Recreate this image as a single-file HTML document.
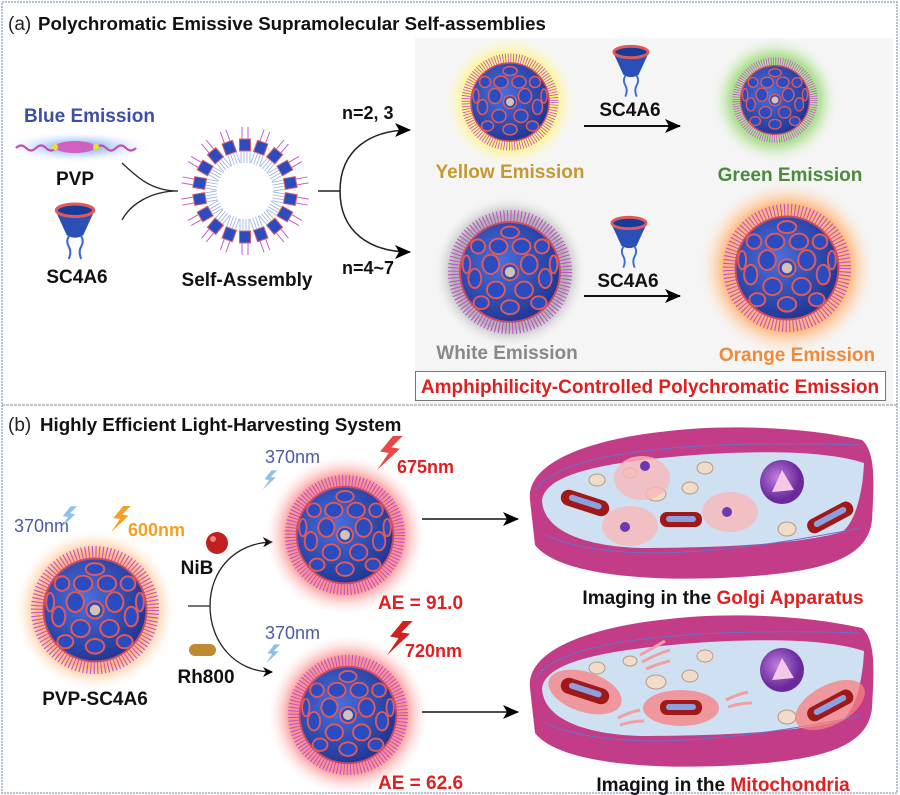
<!DOCTYPE html>
<html><head><meta charset="utf-8"><style>
html,body{margin:0;padding:0;background:#fff}
svg{display:block}
text{font-family:"Liberation Sans",Arial,sans-serif;font-weight:bold}
</style></head><body>
<svg width="900" height="795" viewBox="0 0 900 795" xmlns="http://www.w3.org/2000/svg">
<defs>
<radialGradient id="body" cx="0.4" cy="0.4" r="0.7"><stop offset="0" stop-color="#4a70e0"/><stop offset="1" stop-color="#1c2f8a"/></radialGradient>
<radialGradient id="gY"><stop offset="0" stop-color="#fff060"/><stop offset="0.7" stop-color="#fff27a" stop-opacity="0.9"/><stop offset="1" stop-color="#fffbe0" stop-opacity="0"/></radialGradient>
<radialGradient id="gG"><stop offset="0" stop-color="#98d878"/><stop offset="0.7" stop-color="#a8dc88" stop-opacity="0.85"/><stop offset="1" stop-color="#eef8e8" stop-opacity="0"/></radialGradient>
<radialGradient id="gW"><stop offset="0" stop-color="#909090"/><stop offset="0.75" stop-color="#a8a8a8" stop-opacity="0.85"/><stop offset="1" stop-color="#eee" stop-opacity="0"/></radialGradient>
<radialGradient id="gO"><stop offset="0" stop-color="#ffa060"/><stop offset="0.72" stop-color="#ffb070" stop-opacity="0.9"/><stop offset="1" stop-color="#fff0e0" stop-opacity="0"/></radialGradient>
<radialGradient id="gP"><stop offset="0" stop-color="#f07070"/><stop offset="0.72" stop-color="#f88888" stop-opacity="0.9"/><stop offset="1" stop-color="#ffe8e8" stop-opacity="0"/></radialGradient>
<radialGradient id="gB"><stop offset="0.3" stop-color="#9ec0f0"/><stop offset="1" stop-color="#e8f0ff" stop-opacity="0"/></radialGradient>
<radialGradient id="nuc" cx="0.4" cy="0.4"><stop offset="0" stop-color="#c080e0"/><stop offset="1" stop-color="#6a2a9a"/></radialGradient>
<symbol id="sph" viewBox="-100 -100 200 200">
<circle r="86" fill="none" stroke="#c050c8" stroke-width="22" stroke-dasharray="1.6 3.6"/>
<circle r="78" fill="url(#body)" stroke="#d04a60" stroke-width="3"/>
<g fill="#2a4cc0" stroke="#e05a5a" stroke-width="3">
<ellipse cx="0" cy="0" rx="13" ry="13"/>
<ellipse cx="-30" cy="-12" rx="13" ry="15"/><ellipse cx="30" cy="-12" rx="13" ry="15"/>
<ellipse cx="-18" cy="-40" rx="14" ry="12"/><ellipse cx="18" cy="-40" rx="14" ry="12"/>
<ellipse cx="-22" cy="28" rx="14" ry="13"/><ellipse cx="22" cy="28" rx="14" ry="13"/>
<ellipse cx="0" cy="55" rx="14" ry="11"/><ellipse cx="-55" cy="10" rx="10" ry="15"/>
<ellipse cx="55" cy="10" rx="10" ry="15"/><ellipse cx="-50" cy="-40" rx="11" ry="11"/>
<ellipse cx="50" cy="-40" rx="11" ry="11"/><ellipse cx="0" cy="-62" rx="14" ry="9"/>
<ellipse cx="-45" cy="48" rx="12" ry="10"/><ellipse cx="45" cy="48" rx="12" ry="10"/>
<ellipse cx="-68" cy="-12" rx="6" ry="14"/><ellipse cx="68" cy="-12" rx="6" ry="14"/>
</g>
<circle r="8" fill="#ffe0b0" opacity="0.8"/>
</symbol>
<symbol id="cone" viewBox="0 0 40 56">
<path d="M1,8 L12,32 Q20,37 28,32 L39,8 Z" fill="#2a50b8"/>
<ellipse cx="20" cy="8" rx="18" ry="6" fill="#1a3a9a" stroke="#e05a5a" stroke-width="3"/>
<path d="M14,33 q-3,5 0,10 q3,5 0,12 M26,33 q3,5 0,10 q-3,5 0,12" stroke="#3a6ad0" stroke-width="2" fill="none"/>
</symbol>
<symbol id="bolt" viewBox="0 0 20 24"><path d="M12,0 L3,11 L9,12 L1,24 L17,9 L11,8 L19,0 Z"/></symbol>
<marker id="ar" markerWidth="10" markerHeight="10" refX="9" refY="5" orient="auto" markerUnits="userSpaceOnUse"><path d="M0,0 L10,5 L0,10 L3,5 Z" fill="#000"/></marker>
<marker id="arb" markerWidth="16" markerHeight="14" refX="15" refY="7" orient="auto" markerUnits="userSpaceOnUse"><path d="M0,0 L16,7 L0,14 L4,7 Z" fill="#000"/></marker>
<g id="cell">
<path d="M530,500 C526,462 590,440 660,432 C720,424 800,426 862,440 C876,452 874,484 872,520 C868,560 820,572 740,577 C660,582 560,577 535,545 Z" fill="#c23c88"/>
<path d="M542,500 C546,472 612,462 682,456 C742,451 822,449 864,463 C863,490 856,522 842,532 C800,544 720,548 640,548 C582,546 543,530 542,500 Z" fill="#cfe0f2"/>
<path d="M545,535 C600,560 700,560 860,528" stroke="#6a70c8" stroke-width="1" fill="none"/>
<path d="M536,490 C560,450 700,440 860,445" stroke="#6a70c8" stroke-width="1" fill="none"/>
<g fill="#f0dcc8" stroke="#b89a80" stroke-width="1">
<ellipse cx="630" cy="473" rx="7" ry="5"/><ellipse cx="597" cy="480" rx="8" ry="6"/><ellipse cx="705" cy="468" rx="8" ry="6"/><ellipse cx="690" cy="488" rx="8" ry="6"/><ellipse cx="656" cy="494" rx="10" ry="7"/><ellipse cx="787" cy="529" rx="9" ry="7"/>
</g>
<circle cx="782" cy="482" r="22" fill="url(#nuc)"/><path d="M772,492 L782,470 L794,490 Z" fill="#f4c8e8"/>
</g>
</defs>

<rect x="2" y="2" width="895" height="791" fill="none" stroke="#6a80c0" stroke-width="1" stroke-dasharray="2 1"/>
<line x1="2" y1="405" x2="897" y2="405" stroke="#888" stroke-dasharray="3 1"/>
<rect x="415" y="38" width="478" height="366" fill="#f5f5f5"/>

<text x="8" y="30" font-size="19" style="font-weight:normal" fill="#222">(a)</text>
<text x="38" y="30" font-size="18.7" fill="#111">Polychromatic Emissive Supramolecular Self-assemblies</text>

<text x="24" y="122" font-size="19" fill="#3d4fa6">Blue Emission</text>
<ellipse cx="78" cy="147" rx="72" ry="15" fill="url(#gB)"/>
<path d="M16,148 q5,-5 10,0 t10,0 t10,0 t10,0" stroke="#c050b0" stroke-width="2.2" fill="none"/>
<path d="M96,148 q5,-5 10,0 t10,0 t10,0 t10,0" stroke="#c050b0" stroke-width="2.2" fill="none"/>
<ellipse cx="75" cy="147" rx="20" ry="6" fill="#d060c0"/>
<circle cx="55" cy="147" r="3" fill="#f0e020"/><circle cx="96" cy="147" r="3" fill="#f0e020"/>
<text x="75" y="185" font-size="19" text-anchor="middle" fill="#111">PVP</text>
<use href="#cone" x="53" y="202" width="44" height="58"/>
<text x="77" y="283" font-size="19" text-anchor="middle" fill="#111">SC4A6</text>
<path d="M122,163 C135,175 150,191 178,191 M122,220 C130,205 150,191 178,191" stroke="#222" stroke-width="1.3" fill="none"/>

<g transform="translate(245,191)">
<g id="u"><line x1="-3" y1="-64" x2="-3" y2="-50" stroke="#c060c8" stroke-width="1"/><line x1="3" y1="-64" x2="3" y2="-50" stroke="#c060c8" stroke-width="1"/><rect x="-5.5" y="-52" width="11" height="12" fill="#2a4cc0" stroke="#e06060" stroke-width="1"/><path d="M-4,-40 v12 M-1,-40 v12 M2,-40 v12 M5,-40 v12" stroke="#9ab0e0" stroke-width="0.8"/></g>
<use href="#u" transform="rotate(20)"/><use href="#u" transform="rotate(40)"/><use href="#u" transform="rotate(60)"/><use href="#u" transform="rotate(80)"/><use href="#u" transform="rotate(100)"/><use href="#u" transform="rotate(120)"/><use href="#u" transform="rotate(140)"/><use href="#u" transform="rotate(160)"/><use href="#u" transform="rotate(180)"/><use href="#u" transform="rotate(200)"/><use href="#u" transform="rotate(220)"/><use href="#u" transform="rotate(240)"/><use href="#u" transform="rotate(260)"/><use href="#u" transform="rotate(280)"/><use href="#u" transform="rotate(300)"/><use href="#u" transform="rotate(320)"/><use href="#u" transform="rotate(340)"/>
</g>
<text x="247" y="286" font-size="19" text-anchor="middle" fill="#111">Self-Assembly</text>

<path d="M318,191 L340,191" stroke="#222" stroke-width="1.5"/>
<path d="M340,191 C340,150 370,130 410,130" stroke="#222" stroke-width="1.5" fill="none" marker-end="url(#arb)"/>
<path d="M340,191 C340,232 370,252 410,252" stroke="#222" stroke-width="1.5" fill="none" marker-end="url(#arb)"/>
<text x="342" y="119" font-size="18" fill="#111">n=2, 3</text>
<text x="342" y="274" font-size="18" fill="#111">n=4~7</text>

<circle cx="510" cy="102" r="66" fill="url(#gY)"/>
<use href="#sph" x="460" y="52" width="100" height="100"/>
<text x="510" y="178" font-size="19" text-anchor="middle" fill="#c49a30">Yellow Emission</text>
<use href="#cone" x="612" y="44" width="38" height="54"/>
<text x="630" y="116" font-size="19" text-anchor="middle" fill="#111">SC4A6</text>
<line x1="584" y1="126" x2="680" y2="126" stroke="#111" stroke-width="2" marker-end="url(#arb)"/>
<circle cx="775" cy="100" r="64" fill="url(#gG)"/>
<use href="#sph" x="731" y="56" width="88" height="88"/>
<text x="790" y="181" font-size="19" text-anchor="middle" fill="#4a8a3a">Green Emission</text>

<circle cx="510" cy="272" r="76" fill="url(#gW)"/>
<use href="#sph" x="446" y="208" width="128" height="128"/>
<text x="507" y="359" font-size="19" text-anchor="middle" fill="#888">White Emission</text>
<use href="#cone" x="610" y="215" width="38" height="54"/>
<text x="628" y="287" font-size="19" text-anchor="middle" fill="#111">SC4A6</text>
<line x1="584" y1="296" x2="680" y2="296" stroke="#111" stroke-width="2" marker-end="url(#arb)"/>
<circle cx="787" cy="268" r="88" fill="url(#gO)"/>
<use href="#sph" x="721" y="202" width="132" height="132"/>
<text x="797" y="361" font-size="19" text-anchor="middle" fill="#f08a3a">Orange Emission</text>
<rect x="415.5" y="371.5" width="470" height="29" fill="#fff" stroke="#777" stroke-width="1"/>
<text x="650" y="393" font-size="19" text-anchor="middle" fill="#e02020">Amphiphilicity-Controlled Polychromatic Emission</text>

<text x="8" y="431" font-size="19" style="font-weight:normal" fill="#222">(b)</text>
<text x="40" y="431" font-size="18.7" fill="#111">Highly Efficient Light-Harvesting System</text>

<text x="14" y="532" font-size="18" style="font-weight:normal" fill="#4a5aa8">370nm</text>
<use href="#bolt" x="60" y="506" width="18" height="22" fill="#8ec0ee"/>
<use href="#bolt" x="110" y="506" width="22" height="26" fill="#f5a020"/>
<text x="128" y="536" font-size="18" fill="#f5a020">600nm</text>
<circle cx="95" cy="610" r="80" fill="url(#gO)"/>
<use href="#sph" x="29" y="544" width="132" height="132"/>
<text x="95" y="705" font-size="19" text-anchor="middle" fill="#111">PVP-SC4A6</text>

<circle cx="217" cy="543" r="11" fill="#c02020"/><circle cx="213" cy="539" r="3" fill="#f08080"/>
<text x="197" y="574" font-size="19" text-anchor="middle" fill="#111">NiB</text>
<rect x="189" y="644" width="27" height="12" rx="6" fill="#c08a30"/>
<text x="206" y="683" font-size="19" text-anchor="middle" fill="#111">Rh800</text>
<path d="M188,606 L210,606" stroke="#222" stroke-width="1.3"/>
<path d="M210,606 C210,570 235,543 272,542" stroke="#222" stroke-width="1.3" fill="none" marker-end="url(#ar)"/>
<path d="M210,606 C210,642 235,672 272,672" stroke="#222" stroke-width="1.3" fill="none" marker-end="url(#ar)"/>

<circle cx="345" cy="535" r="80" fill="url(#gP)"/>
<use href="#sph" x="283" y="473" width="124" height="124"/>
<text x="265" y="463" font-size="18" style="font-weight:normal" fill="#4a5aa8">370nm</text>
<use href="#bolt" x="262" y="469" width="16" height="22" fill="#8ec0ee"/>
<use href="#bolt" x="375" y="436" width="30" height="34" fill="#e84848"/>
<text x="397" y="473" font-size="18" fill="#e02020">675nm</text>
<text x="378" y="609" font-size="19" fill="#e02020">AE = 91.0</text>

<circle cx="348" cy="715" r="80" fill="url(#gP)"/>
<use href="#sph" x="286" y="653" width="124" height="124"/>
<text x="265" y="639" font-size="18" style="font-weight:normal" fill="#4a5aa8">370nm</text>
<use href="#bolt" x="265" y="643" width="16" height="22" fill="#8ec0ee"/>
<use href="#bolt" x="385" y="621" width="30" height="34" fill="#d02020"/>
<text x="405" y="657" font-size="18" fill="#e02020">720nm</text>
<text x="378" y="789" font-size="19" fill="#e02020">AE = 62.6</text>

<line x1="422" y1="519" x2="518" y2="519" stroke="#111" stroke-width="1.5" marker-end="url(#arb)"/>
<line x1="422" y1="712" x2="518" y2="712" stroke="#111" stroke-width="1.5" marker-end="url(#arb)"/>

<use href="#cell"/>
<g>
<ellipse cx="642" cy="478" rx="28" ry="22" fill="#f8b8b8" opacity="0.8"/><circle cx="645" cy="466" r="5" fill="#6a3ab0"/>
<ellipse cx="630" cy="526" rx="28" ry="20" fill="#f8b8b8" opacity="0.8"/><circle cx="625" cy="527" r="5" fill="#6a3ab0"/>
<ellipse cx="730" cy="512" rx="28" ry="20" fill="#f8b8b8" opacity="0.8"/><circle cx="727" cy="512" r="5" fill="#6a3ab0"/>
<rect x="560" y="495" width="50" height="16" rx="8" fill="#a01818" transform="rotate(18 585 503)"/><rect x="568" y="499" width="34" height="6" rx="3" fill="#8aa0e0" transform="rotate(18 585 503)"/>
<rect x="660" y="512" width="42" height="15" rx="7" fill="#a01818"/><rect x="666" y="516" width="30" height="6" rx="3" fill="#8aa0e0"/>
<rect x="805" y="510" width="50" height="15" rx="7" fill="#a01818" transform="rotate(-28 830 517)"/><rect x="812" y="514" width="36" height="6" rx="3" fill="#8aa0e0" transform="rotate(-28 830 517)"/>
</g>
<text x="723" y="604" font-size="19" text-anchor="middle" fill="#111">Imaging in the <tspan fill="#e02020">Golgi Apparatus</tspan></text>

<use href="#cell" y="188"/>
<g>
<ellipse cx="585" cy="692" rx="38" ry="20" fill="#f88080" opacity="0.75" transform="rotate(18 585 692)"/>
<ellipse cx="681" cy="708" rx="38" ry="18" fill="#f88080" opacity="0.75"/>
<ellipse cx="830" cy="705" rx="38" ry="20" fill="#f88080" opacity="0.75" transform="rotate(-28 830 705)"/>
<rect x="560" y="683" width="50" height="16" rx="8" fill="#a01818" transform="rotate(18 585 691)"/><rect x="568" y="687" width="34" height="6" rx="3" fill="#8aa0e0" transform="rotate(18 585 691)"/>
<rect x="660" y="700" width="42" height="15" rx="7" fill="#a01818"/><rect x="666" y="704" width="30" height="6" rx="3" fill="#8aa0e0"/>
<rect x="805" y="698" width="50" height="15" rx="7" fill="#a01818" transform="rotate(-28 830 705)"/><rect x="812" y="702" width="36" height="6" rx="3" fill="#8aa0e0" transform="rotate(-28 830 705)"/>
<path d="M640,655 q15,-8 25,-14 M642,662 q15,-8 28,-12 M646,669 q14,-6 24,-8" stroke="#f0a0a0" stroke-width="3" fill="none"/>
<path d="M618,718 q12,-6 22,-8 M620,725 q12,-4 24,-4" stroke="#f0a0a0" stroke-width="3" fill="none"/>
<path d="M726,700 q12,-6 22,-8 M728,707 q12,-4 24,-4" stroke="#f0a0a0" stroke-width="3" fill="none"/>
</g>
<text x="723" y="791" font-size="19" text-anchor="middle" fill="#111">Imaging in the <tspan fill="#e02020">Mitochondria</tspan></text>
</svg>
</body></html>
